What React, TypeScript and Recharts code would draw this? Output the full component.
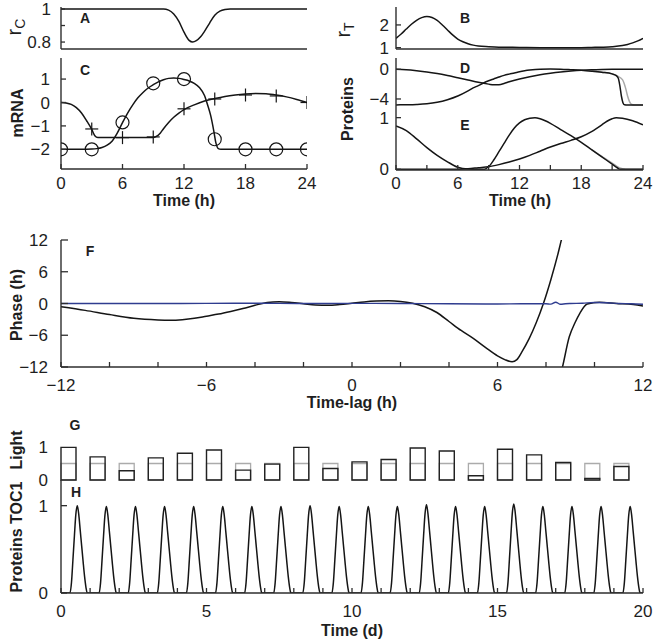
import React from "react";
import { LineChart, BarChart, Line, Bar, XAxis, YAxis } from "recharts";

// ---------------- data ----------------
// A: r_C over the day
const aTime = [0, 2, 4, 6, 8, 10, 10.5, 11, 11.5, 12, 12.5, 12.85, 13.2, 13.6, 14, 14.5, 15, 15.5, 16, 16.5, 18, 20, 22, 24];
const aRc = [1, 1, 1, 1, 1, 1, 0.993, 0.97, 0.925, 0.86, 0.81, 0.8, 0.808, 0.83, 0.865, 0.915, 0.962, 0.987, 0.997, 1, 1, 1, 1, 1];

// B: r_T over the day
const bTime = [0, 0.5, 1, 1.5, 2, 2.5, 3, 3.5, 4, 4.5, 5, 5.5, 6, 6.5, 7, 7.5, 8, 9, 10, 12, 14, 16, 18, 19, 20, 21, 22, 22.5, 23, 23.5, 24];
const bRt = [1.41, 1.6, 1.82, 2.03, 2.2, 2.32, 2.37, 2.33, 2.2, 2.0, 1.78, 1.56, 1.38, 1.26, 1.17, 1.11, 1.07, 1.04, 1.02, 1.01, 1.0, 1.0, 1.0, 1.01, 1.02, 1.04, 1.09, 1.14, 1.21, 1.3, 1.41];

// C: mRNA (circle-marked curve)
const cCircTime = [0, 1, 2, 3, 3.5, 4, 4.5, 5, 5.5, 6, 6.5, 7, 7.5, 8, 8.5, 9, 9.5, 10, 10.5, 11, 11.5, 12, 12.5, 13, 13.5, 14, 14.3, 14.6, 14.9, 15.1, 15.35, 15.6, 16, 18, 20, 22, 24];
const cCircCurve = [-2, -2, -2, -1.99, -1.97, -1.92, -1.82, -1.64, -1.3, -0.86, -0.45, -0.1, 0.2, 0.43, 0.62, 0.76, 0.88, 0.97, 1.03, 1.05, 1.03, 0.98, 0.92, 0.82, 0.64, 0.3, -0.1, -0.55, -1.2, -1.7, -1.97, -2, -2, -2, -2, -2, -2];
// C: mRNA (plus-marked curve)
const cPlusTime = [0, 0.5, 1, 1.5, 2, 2.5, 3, 3.3, 3.6, 5, 7, 9, 9.3, 9.7, 10, 10.5, 11, 11.5, 12, 13, 14, 15, 16, 17, 18, 19, 20, 21, 22, 23, 24];
const cPlusCurve = [0, -0.02, -0.08, -0.22, -0.45, -0.78, -1.15, -1.42, -1.5, -1.5, -1.5, -1.5, -1.45, -1.3, -1.12, -0.85, -0.63, -0.45, -0.3, -0.1, 0.06, 0.17, 0.26, 0.32, 0.36, 0.38, 0.37, 0.32, 0.24, 0.13, 0];
// C: measured points
const cCircPtTime = [0, 3, 6, 9, 12, 15, 18, 21, 24];
const cCircPt = [-2, -2, -0.85, 0.82, 1.0, -1.57, -2, -2, -2];
const cPlusPtTime = [3, 6, 9, 12, 15, 18, 21, 24];
const cPlusPt = [-1.13, -1.5, -1.47, -0.27, 0.15, 0.32, 0.28, 0];

// D: proteins (log scale)
const dTime1 = [0, 1, 2, 3, 4, 5, 6, 7, 8, 9, 9.5, 10, 10.5, 11, 12, 13, 14, 15, 16, 17, 18, 19, 20, 21, 22, 23, 24];
const dLine1 = [0, -0.07, -0.2, -0.36, -0.58, -0.85, -1.15, -1.45, -1.75, -2.0, -2.1, -2.08, -1.92, -1.68, -1.3, -1.0, -0.75, -0.55, -0.38, -0.24, -0.13, -0.06, -0.02, 0, 0, 0, 0];
const dTime2 = [0, 1, 2, 3, 4, 5, 6, 7, 7.5, 8, 8.5, 9, 9.5, 10, 10.5, 11, 11.5, 12, 12.5, 13, 14, 15, 16, 17, 18, 19, 20, 21, 21.4, 21.6, 21.75, 21.9, 22.05, 22.2, 22.5, 23, 24];
const dLine2 = [-4.8, -4.78, -4.74, -4.65, -4.45, -4.1, -3.6, -2.9, -2.5, -2.2, -1.85, -1.55, -1.3, -1.05, -0.82, -0.65, -0.5, -0.33, -0.2, -0.1, 0.02, 0.04, 0.02, -0.05, -0.13, -0.25, -0.4, -0.62, -0.85, -1.2, -2.2, -3.6, -4.5, -4.78, -4.82, -4.82, -4.8];
const dGreyTime = [19, 20, 21, 21.5, 22, 22.3, 22.5, 22.7, 22.9, 23.2, 24];
const dGrey = [-0.25, -0.4, -0.62, -0.9, -1.4, -2.5, -3.6, -4.4, -4.75, -4.82, -4.8];

// E: proteins (linear)
const eTime1 = [0, 1, 2, 3, 4, 5, 6, 7, 8, 8.6, 9, 9.5, 10, 10.5, 11, 11.5, 12, 12.5, 13, 13.5, 14, 14.5, 15, 16, 17, 18, 19, 20, 21, 21.5, 21.8, 22.5, 24];
const eLine1 = [0.84, 0.75, 0.59, 0.42, 0.27, 0.145, 0.04, 0.005, 0, 0, 0.05, 0.18, 0.34, 0.5, 0.66, 0.8, 0.9, 0.96, 0.99, 1.0, 0.98, 0.94, 0.89, 0.77, 0.65, 0.52, 0.38, 0.24, 0.1, 0.03, 0, 0, 0];
const eTime2 = [0, 6, 7, 8, 9, 10, 11, 12, 13, 14, 15, 16, 17, 18, 19, 20, 20.5, 21, 21.4, 22, 23, 24];
const eLine2 = [0, 0, 0.01, 0.03, 0.05, 0.09, 0.14, 0.2, 0.27, 0.35, 0.43, 0.5, 0.56, 0.63, 0.73, 0.86, 0.93, 0.98, 1.0, 0.99, 0.94, 0.86];
const eGreyTime = [19, 20, 21, 21.5, 22, 22.3, 24];
const eGrey = [0.38, 0.25, 0.12, 0.05, 0.01, 0, 0];

// F: phase vs time-lag
const fBranch1Time = [-12, -11, -10, -9, -8, -7.5, -7, -6.5, -6, -5.5, -5, -4.5, -4, -3.5, -3, -2.5, -2, -1.5, -1, -0.5, 0, 0.5, 1, 1.5, 2, 2.5, 3, 3.5, 4, 4.5, 5, 5.5, 6, 6.3, 6.6, 6.8, 7.0, 7.3, 7.6, 7.9, 8.2, 8.5, 8.65, 8.75];
const fBranch1 = [-0.6, -1.3, -2.1, -2.8, -3.1, -3.15, -3.05, -2.8, -2.4, -2.0, -1.5, -0.95, -0.35, 0.2, 0.35, 0.2, -0.05, -0.3, -0.35, -0.2, 0.05, 0.3, 0.45, 0.5, 0.4, 0.05, -0.6, -1.7, -3.4, -5.1, -6.6, -8.3, -9.9, -10.6, -11.0, -10.6, -9.2, -6.7, -3.6, 0.1, 4.5, 9.5, 12.3, 14];
const fBranch2Time = [8.6, 8.68, 8.96, 9.2, 9.4, 9.7, 10.2, 10.9, 11.6, 12];
const fBranch2 = [-13.5, -12, -6.3, -3.6, -1.8, -0.1, 0.22, 0, -0.2, -0.48];
const fCtrlTime = [-12, -10, -8, -6, -4, -2, 0, 2, 4, 6, 7, 8, 8.2, 8.4, 8.6, 8.8, 9, 9.5, 10, 10.5, 11, 11.5, 12];
const fCtrl = [0, 0, 0, 0.02, 0.05, 0, 0.02, 0, -0.05, -0.1, -0.05, -0.05, -0.12, 0.25, -0.15, -0.05, 0, 0.05, 0.2, 0.15, 0, -0.05, -0.15];

// G: daily light level (first half of each day) and reference level
const lightLevel = [0.99, 0.7, 0.28, 0.67, 0.81, 0.91, 0.3, 0.48, 0.99, 0.35, 0.55, 0.62, 0.97, 0.88, 0.13, 0.93, 0.76, 0.53, 0.05, 0.41];
const lightReference = 0.5;

// H: TOC1 protein, daily peak profile (phase within day, level) and peak heights
const toc1Phase = [0.31, 0.36, 0.41, 0.46, 0.51, 0.56, 0.61, 0.66, 0.71, 0.76, 0.81, 0.86, 0.9];
const toc1Level = [0, 0.12, 0.38, 0.65, 0.9, 1.0, 0.9, 0.72, 0.54, 0.36, 0.19, 0.06, 0];
const toc1Peak = [1.0, 0.99, 0.99, 0.99, 0.99, 0.99, 0.99, 0.99, 1.0, 0.99, 0.99, 0.99, 1.01, 0.99, 0.99, 1.02, 0.99, 0.99, 0.99, 0.99];

// ---------------- tables ----------------
const zip = (xs: number[], ys: number[]) => xs.map((x, i) => ({ x, y: ys[i] }));
const aTable = zip(aTime, aRc);
const bTable = zip(bTime, bRt);
const cCircTable = zip(cCircTime, cCircCurve);
const cPlusTable = zip(cPlusTime, cPlusCurve);
const cCircPts = zip(cCircPtTime, cCircPt);
const cPlusPts = zip(cPlusPtTime, cPlusPt);
const dTable1 = zip(dTime1, dLine1);
const dTable2 = zip(dTime2, dLine2);
const dGreyTable = zip(dGreyTime, dGrey);
const eTable1 = zip(eTime1, eLine1);
const eTable2 = zip(eTime2, eLine2);
const eGreyTable = zip(eGreyTime, eGrey);
const fTable1 = zip(fBranch1Time, fBranch1);
const fTable2 = zip(fBranch2Time, fBranch2);
const fCtrlTable = zip(fCtrlTime, fCtrl);
const lightTable = lightLevel.flatMap((v, d) => [
  { slot: 2 * d, light: v, refLevel: lightReference },
  { slot: 2 * d + 1, light: null, refLevel: null },
]);
const toc1Table = [
  { x: 0, y: 0 },
  ...toc1Peak.flatMap((h, d) => toc1Phase.map((p, i) => ({ x: d + p, y: toc1Level[i] * h }))),
  { x: 20, y: 0 },
];

// ---------------- styling helpers ----------------
const FONT = "'Liberation Sans', Arial, Helvetica, sans-serif";
const INK = "#151515";
const FRAME = "#2e2e2e";
const TEXT = "#1e1e1e";
const TICK_FS = 17;
const AX = { stroke: FRAME, strokeWidth: 1.4 };

const fmt = (v: number) => (v < 0 ? "\u2212" + String(Math.abs(v)) : String(v));
const has = (arr: number[], v: number) => arr.some((l) => Math.abs(l - v) < 1e-6);
const range = (a: number, b: number, s: number) => {
  const out: number[] = [];
  for (let v = a; v <= b + 1e-9; v += s) out.push(Math.round(v * 1000) / 1000);
  return out;
};

function yTick(labels: number[], margin: number, len = 5) {
  return (p: any) => {
    const v = Number(p.payload.value);
    const ax = p.x + margin;
    return (
      <g key={`yt-${v}`}>
        {len > 0 && <line x1={ax} x2={ax + len} y1={p.y} y2={p.y} stroke={FRAME} strokeWidth={1.3} />}
        {has(labels, v) && (
          <text x={p.x} y={p.y} dy="0.36em" textAnchor="end" fontFamily={FONT} fontSize={TICK_FS} fill={TEXT}>
            {fmt(v)}
          </text>
        )}
      </g>
    );
  };
}

function xTick(labels: number[], margin: number, len = 5) {
  return (p: any) => {
    const v = Number(p.payload.value);
    const ay = p.y - margin;
    return (
      <g key={`xt-${v}`}>
        {len > 0 && <line x1={p.x} x2={p.x} y1={ay} y2={ay - len} stroke={FRAME} strokeWidth={1.3} />}
        {has(labels, v) && (
          <text x={p.x} y={p.y} dy="0.71em" textAnchor="middle" fontFamily={FONT} fontSize={TICK_FS} fill={TEXT}>
            {fmt(v)}
          </text>
        )}
      </g>
    );
  };
}

const frameAxes = (xd: [number, number], yd: [number, number]) => [
  <XAxis key="ft" xAxisId="frameTop" orientation="top" type="number" domain={xd} height={0} tick={false} tickLine={false} axisLine={AX} allowDataOverflow />,
  <YAxis key="fr" yAxisId="frameRight" orientation="right" type="number" domain={yd} width={0} tick={false} tickLine={false} axisLine={AX} allowDataOverflow />,
];

const curve = (data: any[], color: string, width: number, key: string) => (
  <Line key={key} data={data} dataKey="y" type="monotone" stroke={color} strokeWidth={width} dot={false} isAnimationActive={false} />
);

const circleDot = (p: any) => (
  <circle key={`c-${p.index}`} cx={p.cx} cy={p.cy} r={6.5} fill="none" stroke={INK} strokeWidth={1.2} />
);
const plusDot = (p: any) => (
  <g key={`p-${p.index}`} stroke={INK} strokeWidth={1.2}>
    <line x1={p.cx - 6.5} x2={p.cx + 6.5} y1={p.cy} y2={p.cy} />
    <line x1={p.cx} x2={p.cx} y1={p.cy - 6.5} y2={p.cy + 6.5} />
  </g>
);

const pos = (left: number, top: number): React.CSSProperties => ({ position: "absolute", left, top });

export default function App() {
  const hourTicks = range(0, 24, 3);
  return (
    <div style={{ position: "absolute", left: 0, top: 0, width: 656, height: 639, background: "#fff", overflow: "hidden" }}>
      {/* A */}
      <div style={pos(0, 0)}>
        <LineChart width={311} height={63} margin={{ top: 7, right: 4, bottom: 10, left: 0 }}>
          <XAxis dataKey="x" type="number" domain={[0, 24]} height={4} tick={false} tickLine={false} axisLine={AX} allowDataOverflow />
          <YAxis type="number" domain={[0.758, 1.012]} ticks={[0.8, 0.9, 1]} interval={0} width={61} tickSize={0} tickMargin={10} tickLine={false} axisLine={AX} tick={yTick([0.8, 1], 10, 4)} allowDataOverflow />
          {frameAxes([0, 24], [0.758, 1.012])}
          {curve(aTable, INK, 1.5, "a")}
        </LineChart>
      </div>

      {/* C */}
      <div style={pos(0, 51)}>
        <LineChart width={323} height={150} margin={{ top: 7, right: 16, bottom: 10, left: 0 }}>
          <XAxis dataKey="x" type="number" domain={[0, 24]} ticks={[0, 6, 12, 18, 24]} interval={0} height={22} tickSize={0} tickMargin={8} tickLine={false} axisLine={AX} tick={xTick([0, 6, 12, 18, 24], 8, 5)} allowDataOverflow />
          <YAxis type="number" domain={[-2.84, 1.9]} ticks={[-2, -1, 0, 1]} interval={0} width={61} tickSize={0} tickMargin={11} tickLine={false} axisLine={AX} tick={yTick([-2, -1, 0, 1], 11, 5)} allowDataOverflow />
          {frameAxes([0, 24], [-2.84, 1.9])}
          {curve(cCircTable, INK, 1.5, "circ")}
          {curve(cPlusTable, INK, 1.5, "plus")}
          <Line data={cCircPts} dataKey="y" stroke="transparent" dot={circleDot} activeDot={false} isAnimationActive={false} />
          <Line data={cPlusPts} dataKey="y" stroke="transparent" dot={plusDot} activeDot={false} isAnimationActive={false} />
        </LineChart>
      </div>

      {/* B */}
      <div style={pos(330, 0)}>
        <LineChart width={317} height={63} margin={{ top: 7, right: 4, bottom: 10, left: 0 }}>
          <XAxis dataKey="x" type="number" domain={[0, 24]} height={4} tick={false} tickLine={false} axisLine={AX} allowDataOverflow />
          <YAxis type="number" domain={[0.94, 2.79]} ticks={[1, 2]} interval={0} width={66} tickSize={0} tickMargin={7} tickLine={false} axisLine={AX} tick={yTick([1, 2], 7, 5)} allowDataOverflow />
          {frameAxes([0, 24], [0.94, 2.79])}
          {curve(bTable, INK, 1.5, "b")}
        </LineChart>
      </div>

      {/* D */}
      <div style={pos(330, 41)}>
        <LineChart width={317} height={82} margin={{ top: 17, right: 4, bottom: 10, left: 0 }}>
          <XAxis dataKey="x" type="number" domain={[0, 24]} ticks={hourTicks} interval={0} height={0} tickSize={0} tickMargin={0} tickLine={false} axisLine={AX} tick={xTick([], 0, 5)} allowDataOverflow />
          <YAxis type="number" domain={[-5.89, 1.52]} ticks={[-4, 0]} interval={0} width={66} tickSize={0} tickMargin={7} tickLine={false} axisLine={AX} tick={yTick([-4, 0], 7, 5)} allowDataOverflow />
          {frameAxes([0, 24], [-5.89, 1.52])}
          {curve(dGreyTable, "#a9a9a9", 1.5, "dg")}
          {curve(dTable1, INK, 1.5, "d1")}
          {curve(dTable2, INK, 1.5, "d2")}
        </LineChart>
      </div>

      {/* E */}
      <div style={pos(330, 96)}>
        <LineChart width={326} height={106} margin={{ top: 17, right: 13, bottom: 10, left: 0 }}>
          <XAxis dataKey="x" type="number" domain={[0, 24]} ticks={hourTicks} interval={0} height={22} tickSize={0} tickMargin={7} tickLine={false} axisLine={AX} tick={xTick([0, 6, 12, 18, 24], 7, 5)} allowDataOverflow />
          <YAxis type="number" domain={[-0.014, 1.09]} ticks={[0, 1]} interval={0} width={66} tickSize={0} tickMargin={7} tickLine={false} axisLine={AX} tick={yTick([0, 1], 7, 5)} allowDataOverflow />
          {frameAxes([0, 24], [-0.014, 1.09])}
          {curve(eGreyTable, "#a9a9a9", 1.5, "eg")}
          {curve(eTable1, INK, 1.5, "e1")}
          {curve(eTable2, INK, 1.5, "e2")}
        </LineChart>
      </div>

      {/* F */}
      <div style={pos(0, 223)}>
        <LineChart width={656} height={176} margin={{ top: 17, right: 13, bottom: 10, left: 0 }}>
          <XAxis dataKey="x" type="number" domain={[-12, 12]} ticks={range(-12, 12, 2)} interval={0} height={22} tickSize={0} tickMargin={12} tickLine={false} axisLine={AX} tick={xTick([-12, -6, 0, 6, 12], 12, 5)} allowDataOverflow />
          <YAxis type="number" domain={[-12, 12]} ticks={[-12, -6, 0, 6, 12]} interval={0} width={61} tickSize={0} tickMargin={13} tickLine={false} axisLine={AX} tick={yTick([-12, -6, 0, 6, 12], 13, 7)} allowDataOverflow />
          {frameAxes([-12, 12], [-12, 12])}
          {curve(fTable1, INK, 1.5, "f1")}
          {curve(fTable2, INK, 1.5, "f2")}
          {curve(fCtrlTable, "#2f3c8f", 1.4, "fc")}
        </LineChart>
      </div>

      {/* G */}
      <div style={pos(0, 423)}>
        <BarChart width={649} height={69} data={lightTable} margin={{ top: 17, right: 6, bottom: 12, left: 0 }} barCategoryGap={0} barGap={0}>
          <XAxis xAxisId="refAxis" dataKey="slot" hide />
          <XAxis xAxisId="lightAxis" dataKey="slot" hide />
          <YAxis type="number" domain={[0, 1.212]} ticks={[0, 1]} interval={0} width={61} tickSize={0} tickMargin={13} tickLine={false} axisLine={false} tick={yTick([0, 1], 13, 0)} />
          <Bar xAxisId="refAxis" dataKey="refLevel" fill="none" stroke="#ababab" strokeWidth={1.3} isAnimationActive={false} />
          <Bar xAxisId="lightAxis" dataKey="light" fill="none" stroke="#222" strokeWidth={1.4} isAnimationActive={false} />
        </BarChart>
      </div>

      {/* H */}
      <div style={pos(0, 473)}>
        <LineChart width={656} height={152} margin={{ top: 7, right: 13, bottom: 10, left: 0 }}>
          <XAxis dataKey="x" type="number" domain={[0, 20]} ticks={range(0, 20, 1)} interval={0} height={22} tickSize={0} tickMargin={12} tickLine={false} axisLine={AX} tick={xTick([0, 5, 10, 15, 20], 12, 5)} allowDataOverflow />
          <YAxis type="number" domain={[0, 1.294]} ticks={[0, 1]} interval={0} width={61} tickSize={0} tickMargin={13} tickLine={false} axisLine={AX} tick={yTick([0, 1], 13, 6)} allowDataOverflow />
          {frameAxes([0, 20], [0, 1.294])}
          {curve(toc1Table, INK, 1.5, "h")}
        </LineChart>
      </div>

      {/* labels */}
      <svg width={656} height={639} style={{ position: "absolute", left: 0, top: 0, pointerEvents: "none" }}>
        <g fontFamily={FONT} fill={TEXT} fontWeight="bold" fontSize={14} textAnchor="middle">
          <text x={85} y={18} dy="0.36em">A</text>
          <text x={85} y={70} dy="0.36em">C</text>
          <text x={465} y={18} dy="0.36em">B</text>
          <text x={465} y={68} dy="0.36em">D</text>
          <text x={465} y={125} dy="0.36em">E</text>
          <text x={90} y={251} dy="0.36em">F</text>
          <text x={75} y={425} dy="0.36em">G</text>
          <text x={76} y={492} dy="0.36em">H</text>
        </g>
        <g fontFamily={FONT} fill={TEXT} fontWeight="bold" fontSize={16} textAnchor="middle">
          <text x={184} y={200} dy="0.36em">Time (h)</text>
          <text x={520} y={200} dy="0.36em">Time (h)</text>
          <text x={352} y={402} dy="0.36em">Time-lag (h)</text>
          <text x={352} y={630} dy="0.36em">Time (d)</text>
          <text transform="translate(17,113) rotate(-90)" dy="0.36em">mRNA</text>
          <text transform="translate(347,109) rotate(-90)" dy="0.36em">Proteins</text>
          <text transform="translate(16,305) rotate(-90)" dy="0.36em">Phase (h)</text>
          <text transform="translate(16,450) rotate(-90)" dy="0.36em">Light</text>
          <text transform="translate(16,537) rotate(-90)" dy="0.36em">Proteins TOC1</text>
        </g>
        <g fontFamily={FONT} fill={TEXT} textAnchor="middle">
          <text transform="translate(21,27) rotate(-90)" fontSize={20}>
            r<tspan fontSize={14} dy={4}>C</tspan>
          </text>
          <text transform="translate(350,30) rotate(-90)" fontSize={20}>
            r<tspan fontSize={14} dy={4}>T</tspan>
          </text>
        </g>
      </svg>
    </div>
  );
}
